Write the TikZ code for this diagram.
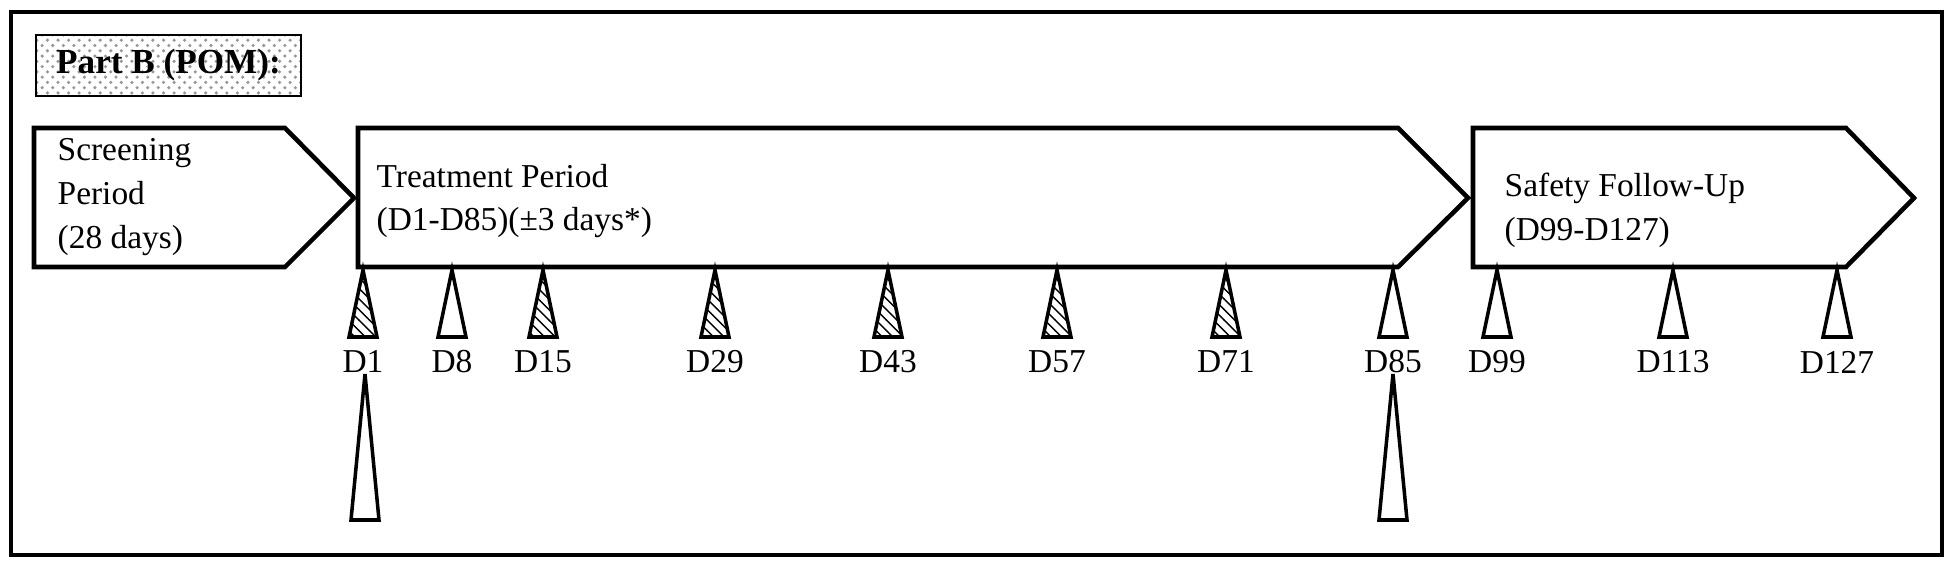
\documentclass[tikz,border=0pt]{standalone}
\usepackage{fontspec}
\setmainfont{Liberation Serif}
\usetikzlibrary{patterns}
\begin{document}
\begin{tikzpicture}[x=0.01cm,y=-0.01cm,
  frame/.style={line width=1.2pt},
  phase/.style={line width=1.3pt, line join=miter},
  lbl/.style={font=\fontsize{9.5}{12.5}\selectfont, anchor=west, align=left, inner sep=0pt},
  daylbl/.style={font=\fontsize{9.5}{11}\selectfont, inner sep=0pt},
  visit/.style={line width=1pt, fill=white},
  hatched/.style={line width=1pt, pattern=north west lines}]
\useasboundingbox (0,0) rectangle (1948,573);
\draw[frame] (11,12) rectangle (1942,555);
% title
\node[draw, line width=0.6pt, pattern=crosshatch dots, pattern color=gray!80,
      minimum width=2.65cm, minimum height=0.61cm, inner sep=0pt,
      font=\bfseries\fontsize{10}{12}\selectfont] (title) at (168.5,65.5) {Part B (POM):};
% phases
\draw[phase] (34,128) -- (285,128) -- (354,198) -- (285,267) -- (34,267) -- cycle;
\draw[phase] (358,128) -- (1398,128) -- (1468,198) -- (1398,267) -- (358,267) -- cycle;
\draw[phase] (1473,128) -- (1846,128) -- (1914,198) -- (1846,267) -- (1473,267) -- cycle;
\node[lbl] (scr) at (57,197) {Screening\\Period\\(28 days)};
\node[lbl] (trt) at (376,201) {Treatment Period\\(D1-D85)(±3 days*)};
\node[lbl] (saf) at (1504,210) {Safety Follow-Up\\(D99-D127)};
% visits
\foreach \x/\d/\s in {363/1/hatched,452/8/visit,543/15/hatched,715/29/hatched,888/43/hatched,1057/57/hatched,1226/71/hatched,1393/85/visit,1497/99/visit,1673/113/visit,1837/127/visit}{
  \draw[\s] (\x,270) -- (\x+14,337) -- (\x-14,337) -- cycle;
  \node[daylbl] (d\d) at (\x,362) {D\d};
}
\foreach \x/\n in {365/a,1393/b}{
  \draw[visit] (\x,374) -- (\x+14,520) -- (\x-14,520) -- cycle;
}
\end{tikzpicture}
\end{document}
